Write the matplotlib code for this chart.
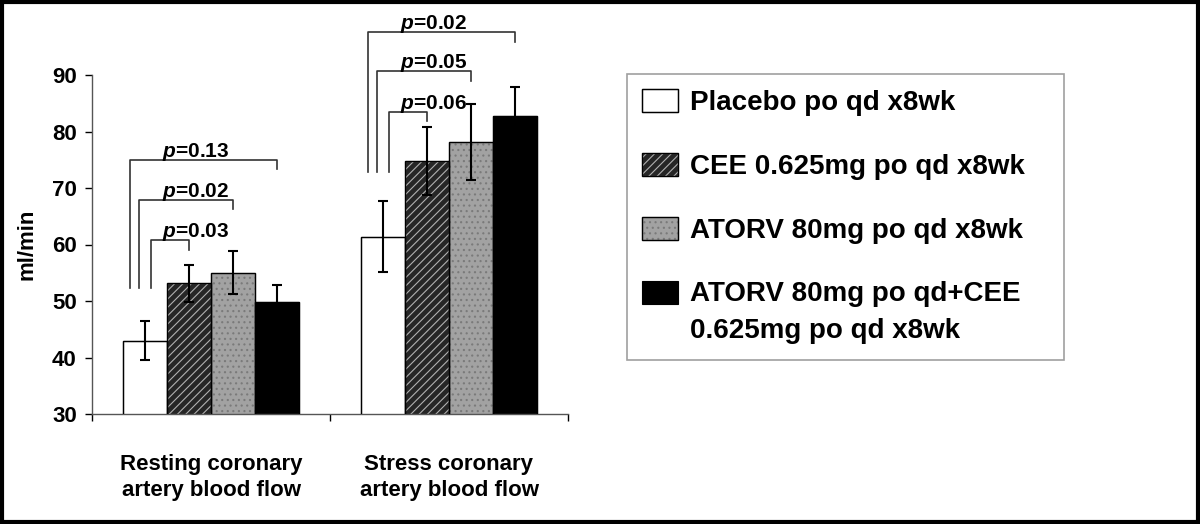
import numpy as np
import matplotlib
matplotlib.use("Agg")
import matplotlib.pyplot as plt
import matplotlib.patches as mpatches
from matplotlib.legend_handler import HandlerTuple, HandlerPatch

plt.rcParams['font.family'] = ['Liberation Sans', 'DejaVu Sans']
plt.rcParams['font.weight'] = 'bold'
plt.rcParams['mathtext.fontset'] = 'custom'
plt.rcParams['mathtext.it'] = 'Liberation Sans:italic:bold'
plt.rcParams['mathtext.rm'] = 'Liberation Sans:bold'
plt.rcParams['hatch.linewidth'] = 0.8

groups = ['Resting coronary\nartery blood flow', 'Stress coronary\nartery blood flow']
treatments = ['Placebo po qd x8wk', 'CEE 0.625mg po qd x8wk', 'ATORV 80mg po qd x8wk',
              'ATORV 80mg po qd+CEE\n0.625mg po qd x8wk']

placebo = [43.0, 61.4]
cee = [53.1, 74.8]
atorv = [55.0, 78.2]
combo = [49.9, 82.7]
placebo_err = [3.5, 6.3]
cee_err = [3.2, 6.0]
atorv_err = [3.8, 6.7]
combo_err = [3.0, 5.1]

# p-values vs placebo for CEE, ATORV, ATORV+CEE
p_rest = ['0.03', '0.02', '0.13']
p_stress = ['0.06', '0.05', '0.02']
# bracket levels (ml/min) for each comparison
lvl_rest = [60.8, 67.9, 75.0]
lvl_stress = [83.5, 90.7, 97.6]

fig = plt.figure(figsize=(12, 5.24), dpi=100)
ax = fig.add_axes([92/1200, 110/524, 476/1200, 339/524])

x = np.arange(len(groups))
w = 0.184
values = [placebo, cee, atorv, combo]
errs = [placebo_err, cee_err, atorv_err, combo_err]
styles = [
    dict(color='white', edgecolor='black', hatch=None),
    dict(color='#262626', edgecolor='#b0b0b0', hatch='////'),
    dict(color='#a2a2a2', edgecolor='#7a7a7a', hatch='...'),
    dict(color='black', edgecolor='black', hatch=None),
]

handles = []
for i, (vals, err, st) in enumerate(zip(values, errs, styles)):
    pos = x + (i - 1.5) * w
    b = ax.bar(pos, vals, w, bottom=0, color=st['color'], edgecolor=st['edgecolor'],
               hatch=st['hatch'], linewidth=0.8, zorder=2)
    o = ax.bar(pos, vals, w, fill=False, edgecolor='black', linewidth=1.0, zorder=3)
    ax.errorbar(pos, vals, yerr=err, fmt='none', ecolor='black', elinewidth=1.5,
                capsize=3.5, capthick=1.5, zorder=4)
    if i < 3:
        handles.append((b[0], o[0]))
    else:
        handles.append(b[0])

# significance brackets
for g, (pv, lv, drop) in enumerate([(p_rest, lvl_rest, 52.3), (p_stress, lvl_stress, 72.9)]):
    base = x[g] - 1.5 * w
    left_off = [0.025, -0.025, -0.065]
    for k in range(3):
        xl = base + left_off[k]
        xr = x[g] + (k - 0.5) * w
        y = lv[k]
        ax.plot([xl, xl, xr, xr], [drop, y, y, y - 1.7], color='#333333', lw=1.2,
                clip_on=False, zorder=5)
        ax.text(x[g] - 0.207, y + 0.5, r'$p$=' + pv[k], fontsize=15, fontweight='bold',
                ha='left', va='baseline', clip_on=False, zorder=6)

ax.set_ylim(30, 90)
ax.set_xlim(-0.5, 1.5)
ax.set_yticks(range(30, 91, 10))
ax.set_yticklabels([str(v) for v in range(30, 91, 10)], fontsize=16, fontweight='bold')
ax.tick_params(axis='y', length=5, width=1, pad=6)
ax.set_xticks(x)
ax.set_xticklabels(groups, fontsize=16, fontweight='bold', linespacing=1.3)
ax.tick_params(axis='x', which='major', length=0, pad=29)
ax.set_xticks([-0.5, 0.5, 1.5], minor=True)
ax.tick_params(axis='x', which='minor', length=5, width=1)
ax.set_ylabel('ml/min', fontsize=16, fontweight='bold', labelpad=10)
for s in ['top', 'right']:
    ax.spines[s].set_visible(False)
for s in ['left', 'bottom']:
    ax.spines[s].set_color('#555555')
    ax.spines[s].set_linewidth(1.0)


def up_patch(legend, orig_handle, xdescent, ydescent, width, height, fontsize):
    return mpatches.Rectangle((-xdescent, -ydescent + 0.75 * fontsize), width, height)


leg = ax.legend(handles, treatments, loc='upper left', mode='expand',
                bbox_to_anchor=(627/1200, 1 - 356/524, 437/1200, 282/524),
                bbox_transform=fig.transFigure,
                prop=dict(size=20, weight='bold'), frameon=True, fancybox=False,
                edgecolor='#888888', handlelength=1.3, handleheight=0.9,
                handletextpad=0.4, labelspacing=1.33, borderpad=0.55, borderaxespad=0,
                handler_map={tuple: HandlerTuple(ndivide=1),
                             handles[3]: HandlerPatch(patch_func=up_patch)})
leg.get_frame().set_linewidth(1.2)
for t in leg.get_texts():
    t.set_linespacing(1.55)

fig.patches.append(mpatches.Rectangle((0.0015, 0.003), 0.997, 0.994, transform=fig.transFigure,
                                      fill=False, edgecolor='black', linewidth=3))

fig.savefig('out.png', dpi=100)
